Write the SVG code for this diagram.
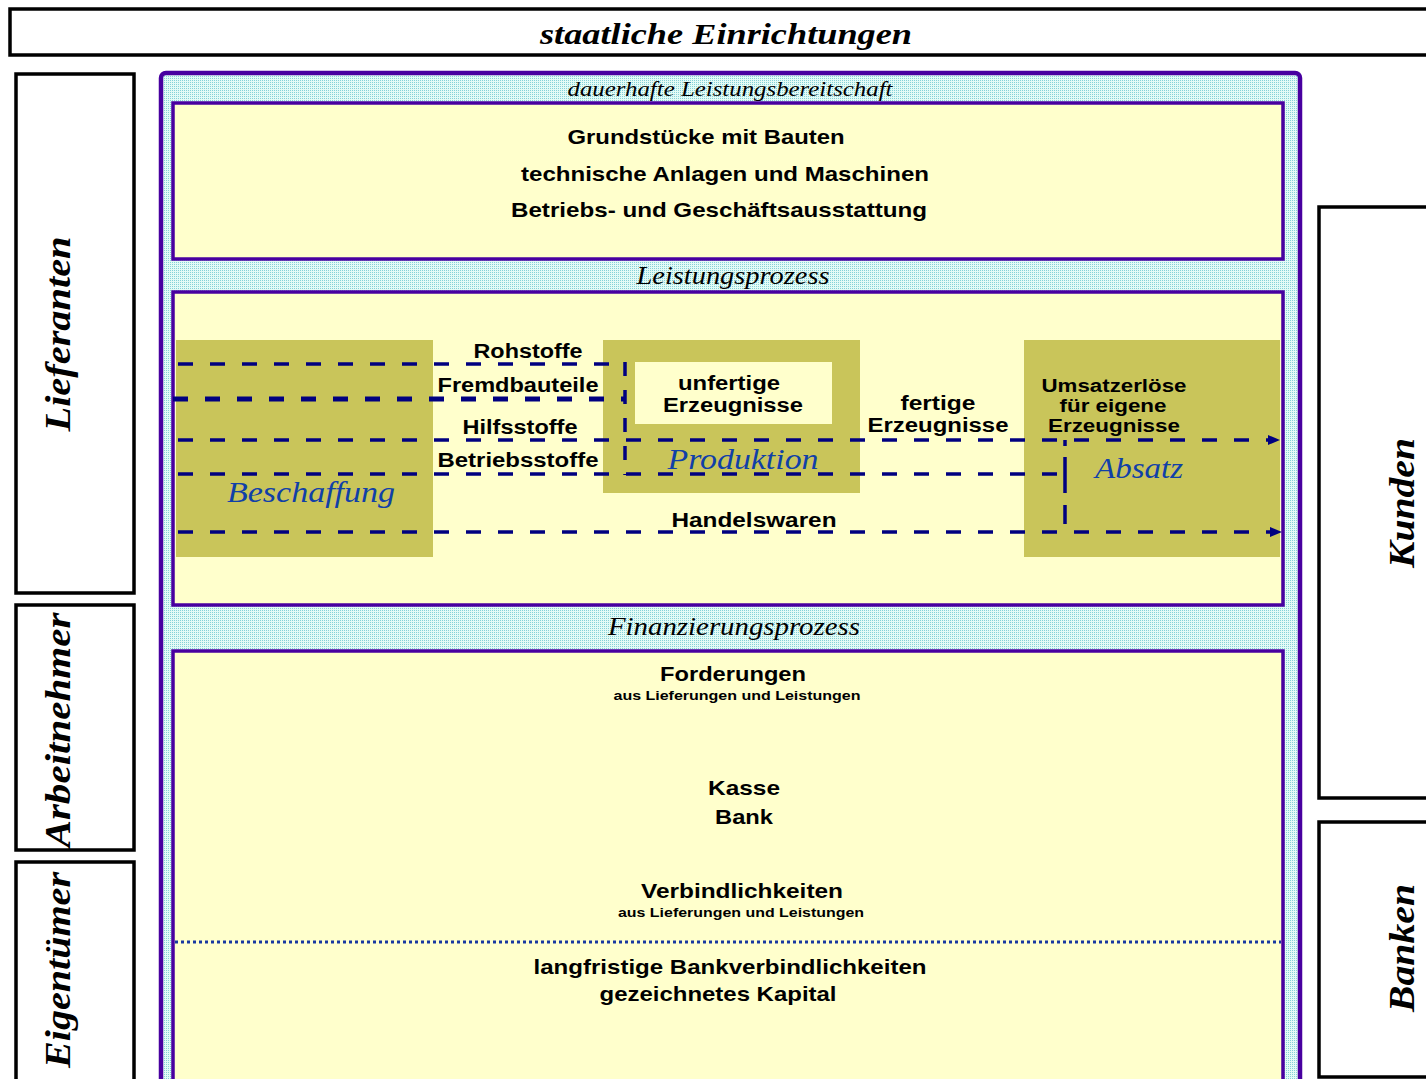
<svg xmlns="http://www.w3.org/2000/svg" width="1426" height="1079" viewBox="0 0 1426 1079">
<defs>
<style>
.frame{fill:#ffffff;stroke:#000000;stroke-width:3.5}
.outer{fill:url(#cyanDots);stroke:#4800a0;stroke-width:4.5}
.box{fill:#ffffcc;stroke:#4800a0;stroke-width:3.5}
.block{fill:#c9c55a}
.vt{font-family:"Liberation Serif",serif;font-weight:bold;font-style:italic;font-size:36px;fill:#000;text-anchor:middle}
.hd{font-family:"Liberation Serif",serif;font-style:italic;fill:#000;text-anchor:middle}
.sb{font-family:"Liberation Sans","DejaVu Sans",sans-serif;font-weight:bold;fill:#000;text-anchor:middle}
.blue{font-family:"Liberation Serif",serif;font-style:italic;font-size:30px;fill:#1040a8;text-anchor:middle}
.dash{fill:none;stroke:#000080;stroke-width:3.5;stroke-dasharray:15 17}
</style>
<pattern id="cyanDots" width="2" height="2" patternUnits="userSpaceOnUse">
<rect width="2" height="2" fill="#e4fbf6"/>
<rect width="1" height="1" fill="#86d2d8"/>
</pattern>
<marker id="arrow" markerUnits="userSpaceOnUse" markerWidth="12" markerHeight="10" refX="0" refY="5" orient="auto">
<path d="M0,0 L12,5 L0,10 z" fill="#000080"/>
</marker>
</defs>

<g id="staatliche-einrichtungen">
<rect class="frame" x="10" y="9" width="1430" height="46"/>
<text class="hd" x="726" y="44" font-size="30" font-weight="bold" textLength="372" lengthAdjust="spacingAndGlyphs">staatliche Einrichtungen</text>
</g>

<g id="lieferanten">
<rect class="frame" x="16" y="74" width="118" height="519"/>
<text class="vt" transform="translate(70,334) rotate(-90)" textLength="195" lengthAdjust="spacingAndGlyphs">Lieferanten</text>
</g>
<g id="arbeitnehmer">
<rect class="frame" x="16" y="605" width="118" height="245"/>
<text class="vt" transform="translate(70,730) rotate(-90)" textLength="235" lengthAdjust="spacingAndGlyphs">Arbeitnehmer</text>
</g>
<g id="eigentuemer">
<rect class="frame" x="16" y="862" width="118" height="230"/>
<text class="vt" transform="translate(70,970) rotate(-90)" textLength="196" lengthAdjust="spacingAndGlyphs">Eigentümer</text>
</g>
<g id="kunden">
<rect class="frame" x="1319" y="207" width="130" height="591"/>
<text class="vt" transform="translate(1414,503) rotate(-90)" textLength="130" lengthAdjust="spacingAndGlyphs">Kunden</text>
</g>
<g id="banken">
<rect class="frame" x="1319" y="822" width="130" height="255"/>
<text class="vt" transform="translate(1414,948) rotate(-90)" textLength="128" lengthAdjust="spacingAndGlyphs">Banken</text>
</g>

<g id="unternehmen">
<rect class="outer" x="161" y="73" width="1139" height="1030" rx="5"/>
<text class="hd" x="730" y="96" font-size="21" textLength="325" lengthAdjust="spacingAndGlyphs">dauerhafte Leistungsbereitschaft</text>
<text class="hd" x="733" y="284" font-size="26" textLength="193" lengthAdjust="spacingAndGlyphs">Leistungsprozess</text>
<text class="hd" x="734" y="635" font-size="26" textLength="252" lengthAdjust="spacingAndGlyphs">Finanzierungsprozess</text>
</g>

<g id="leistungsbereitschaft">
<rect class="box" x="173" y="103" width="1110" height="156"/>
<text class="sb" x="706" y="144" font-size="21" textLength="277" lengthAdjust="spacingAndGlyphs">Grundstücke mit Bauten</text>
<text class="sb" x="725" y="181" font-size="21" textLength="408" lengthAdjust="spacingAndGlyphs">technische Anlagen und Maschinen</text>
<text class="sb" x="719" y="217" font-size="21" textLength="416" lengthAdjust="spacingAndGlyphs">Betriebs- und Geschäftsausstattung</text>
</g>

<g id="leistungsprozess">
<rect class="box" x="173" y="292" width="1110" height="313"/>
</g>

<g id="beschaffung">
<rect class="block" x="176" y="340" width="257" height="217"/>
<text class="blue" x="311" y="502" textLength="168" lengthAdjust="spacingAndGlyphs">Beschaffung</text>
</g>
<g id="produktion">
<rect class="block" x="603" y="340" width="257" height="153"/>
<rect x="635" y="362" width="197" height="62" fill="#ffffcc"/>
<text class="sb" x="729" y="390" font-size="20" textLength="102" lengthAdjust="spacingAndGlyphs">unfertige</text>
<text class="sb" x="733" y="412" font-size="20" textLength="140" lengthAdjust="spacingAndGlyphs">Erzeugnisse</text>
<text class="blue" x="743" y="469" textLength="151" lengthAdjust="spacingAndGlyphs">Produktion</text>
</g>
<g id="absatz">
<rect class="block" x="1024" y="340" width="256" height="217"/>
<text class="sb" x="1114" y="392" font-size="18" textLength="145" lengthAdjust="spacingAndGlyphs">Umsatzerlöse</text>
<text class="sb" x="1113" y="412" font-size="18" textLength="107" lengthAdjust="spacingAndGlyphs">für eigene</text>
<text class="sb" x="1114" y="432" font-size="18" textLength="132" lengthAdjust="spacingAndGlyphs">Erzeugnisse</text>
<text class="blue" x="1139" y="478" textLength="88" lengthAdjust="spacingAndGlyphs">Absatz</text>
</g>

<g id="connectors">
<path class="dash" d="M178 364 H625"/>
<path class="dash" d="M173 399 H625" style="stroke-width:5"/>
<path class="dash" d="M178 440 H1268" marker-end="url(#arrow)"/>
<path class="dash" d="M178 474 H1058"/>
<path class="dash" d="M178 532 H1270" marker-end="url(#arrow)"/>
<path class="dash" d="M625 362 V475" style="stroke-dasharray:14 14"/>
<path class="dash" d="M1065 440 V524" style="stroke-dasharray:6 11 36 12 20 0"/>
<text class="sb" x="528" y="358" font-size="20" textLength="109" lengthAdjust="spacingAndGlyphs">Rohstoffe</text>
<text class="sb" x="518" y="392" font-size="20" textLength="161" lengthAdjust="spacingAndGlyphs">Fremdbauteile</text>
<text class="sb" x="520" y="434" font-size="20" textLength="115" lengthAdjust="spacingAndGlyphs">Hilfsstoffe</text>
<text class="sb" x="518" y="467" font-size="20" textLength="161" lengthAdjust="spacingAndGlyphs">Betriebsstoffe</text>
<text class="sb" x="754" y="527" font-size="20" textLength="165" lengthAdjust="spacingAndGlyphs">Handelswaren</text>
<text class="sb" x="938" y="410" font-size="20" textLength="75" lengthAdjust="spacingAndGlyphs">fertige</text>
<text class="sb" x="938" y="432" font-size="20" textLength="141" lengthAdjust="spacingAndGlyphs">Erzeugnisse</text>
</g>

<g id="finanzierungsprozess">
<rect class="box" x="173" y="651" width="1110" height="440"/>
<text class="sb" x="733" y="681" font-size="21" textLength="146" lengthAdjust="spacingAndGlyphs">Forderungen</text>
<text class="sb" x="737" y="700" font-size="12" textLength="247" lengthAdjust="spacingAndGlyphs">aus Lieferungen und Leistungen</text>
<text class="sb" x="744" y="795" font-size="21" textLength="72" lengthAdjust="spacingAndGlyphs">Kasse</text>
<text class="sb" x="744" y="824" font-size="21" textLength="58" lengthAdjust="spacingAndGlyphs">Bank</text>
<text class="sb" x="742" y="898" font-size="21" textLength="202" lengthAdjust="spacingAndGlyphs">Verbindlichkeiten</text>
<text class="sb" x="741" y="917" font-size="12" textLength="246" lengthAdjust="spacingAndGlyphs">aus Lieferungen und Leistungen</text>
<path d="M175 942 H1281" fill="none" stroke="#1838a0" stroke-width="3" stroke-dasharray="3 3"/>
<text class="sb" x="730" y="974" font-size="21" textLength="393" lengthAdjust="spacingAndGlyphs">langfristige Bankverbindlichkeiten</text>
<text class="sb" x="718" y="1001" font-size="21" textLength="237" lengthAdjust="spacingAndGlyphs">gezeichnetes Kapital</text>
</g>
</svg>
